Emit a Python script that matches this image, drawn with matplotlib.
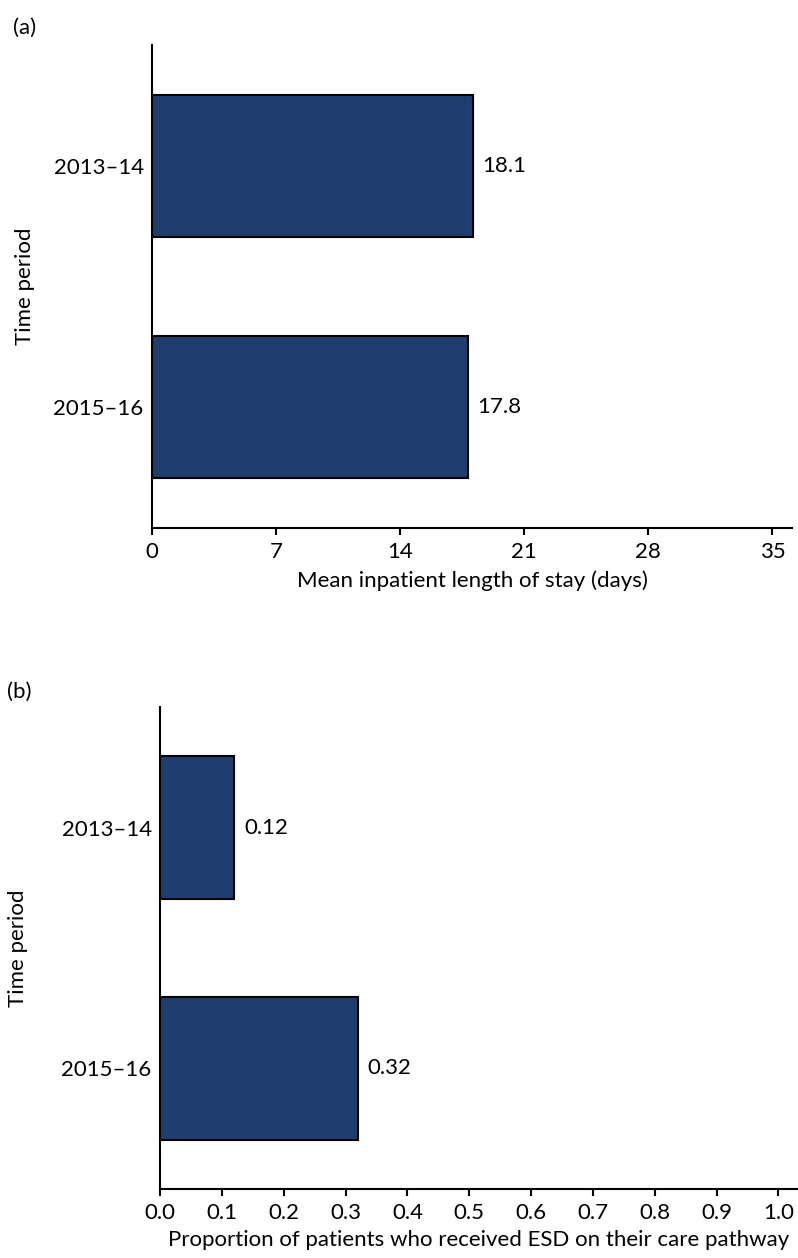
import numpy as np
import matplotlib.pyplot as plt

plt.rcParams['font.family'] = ['Lato', 'DejaVu Sans']

periods = ["2013–14", "2015–16"]
los_days = [18.1, 17.8]
esd_prop = [0.12, 0.32]
los_labels = ["18.1", "17.8"]
esd_labels = ["0.12", "0.32"]
los_ticks = [0, 7, 14, 21, 28, 35]
esd_ticks = [0.0, 0.1, 0.2, 0.3, 0.4, 0.5, 0.6, 0.7, 0.8, 0.9, 1.0]

bar_color = "#1d3e6e"
fs = 16

fig = plt.figure(figsize=(7.98, 12.58), dpi=100)

# (a) length of stay
ax1 = fig.add_axes([152 / 798, 1 - 528 / 1258, 640 / 798, 483 / 1258])
y = np.arange(len(periods))
ax1.barh(y, los_days, height=0.59, color=bar_color, edgecolor="black", linewidth=1.5)
for yi, v, lab in zip(y, los_days, los_labels):
    ax1.annotate(lab, (v, yi), xytext=(7, 0), textcoords="offset points",
                 va="center", ha="left", fontsize=fs)
ax1.set_xlim(0, 36.1)
ax1.set_ylim(1.5, -0.5)
ax1.set_xticks(los_ticks)
ax1.set_yticks(y)
ax1.set_yticklabels(periods)
ax1.set_xlabel("Mean inpatient length of stay (days)", fontsize=fs, labelpad=6)

# (b) proportion ESD
ax2 = fig.add_axes([160 / 798, 1 - 1189 / 1258, 637 / 798, 482 / 1258])
ax2.barh(y, esd_prop, height=0.59, color=bar_color, edgecolor="black", linewidth=1.5)
for yi, v, lab in zip(y, esd_prop, esd_labels):
    ax2.annotate(lab, (v, yi), xytext=(7, 0), textcoords="offset points",
                 va="center", ha="left", fontsize=fs)
ax2.set_xlim(0, 1.03)
ax2.set_ylim(1.5, -0.5)
ax2.set_xticks(esd_ticks)
ax2.set_xticklabels([f"{t:.1f}" for t in esd_ticks])
ax2.set_yticks(y)
ax2.set_yticklabels(periods)
ax2.set_xlabel("Proportion of patients who received ESD on their care pathway",
               fontsize=fs, labelpad=5)

for ax in (ax1, ax2):
    ax.spines["top"].set_visible(False)
    ax.spines["right"].set_visible(False)
    ax.spines["left"].set_linewidth(1.5)
    ax.spines["bottom"].set_linewidth(1.5)
    ax.tick_params(axis="x", labelsize=fs, length=5, width=1.5, pad=5)
    ax.tick_params(axis="y", labelsize=fs, length=0, pad=6)

fig.text(13 / 798, 1 - 28 / 1258, "(a)", fontsize=fs, va="center", ha="left")
fig.text(7 / 798, 1 - 692 / 1258, "(b)", fontsize=fs, va="center", ha="left")
fig.text(25 / 798, 1 - 286.5 / 1258, "Time period", fontsize=fs, rotation=90,
         va="center", ha="center")
fig.text(18 / 798, 1 - 948 / 1258, "Time period", fontsize=fs, rotation=90,
         va="center", ha="center")

fig.savefig("out.png", dpi=100)
